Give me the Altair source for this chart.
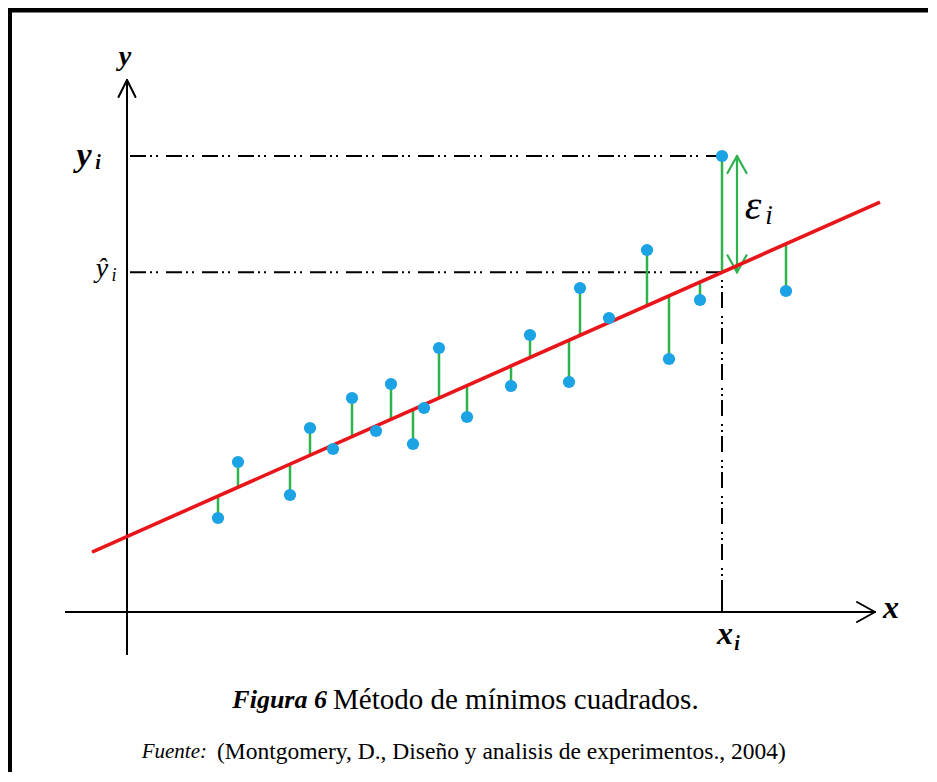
import altair as alt
import pandas as pd

# Diagram coordinates: origin where the axes cross (1 unit = 10 px)
pts_x = [9.1, 11.1, 16.3, 18.3, 20.6, 22.5, 24.9, 26.4, 28.6, 29.7, 31.2,
         34.0, 38.4, 40.3, 44.2, 45.3, 48.2, 52.0, 54.2, 57.3, 59.5, 65.9]
pts_y = [9.4, 15.0, 11.7, 18.4, 16.3, 21.4, 18.1, 22.8, 16.8, 20.4, 26.4,
         19.5, 22.6, 27.7, 23.0, 32.4, 29.4, 36.2, 25.3, 31.2, 45.6, 32.1]
line_x = [-3.5, 75.3]
intercept, slope = 7.55, 0.444
xi_value = 59.5
yi_value = 45.6
eps_x = 61.0
yaxis_range = [-4.3, 53.2]
xaxis_range = [-6.2, 74.8]

caption_bold = "Figura 6"
caption_rest = "Método de mínimos cuadrados."
source_italic = "Fuente:"
source_rest = "(Montgomery, D., Diseño y analisis de experimentos., 2004)"

SERIF = "Liberation Serif"
BLUE = "#1ba3e6"
GREEN = "#2db34b"
RED = "#e8161b"

XS = alt.Scale(domain=[-11.9, 80.1], nice=False, zero=False)
YS = alt.Scale(domain=[-16.0, 60.4], nice=False, zero=False)


def yhat(x):
    return intercept + slope * x


yhat_i = yhat(xi_value)


def segs(rows, color, width, dash=None, cap="butt"):
    df = pd.DataFrame(rows, columns=["x", "y", "x2", "y2"])
    kw = dict(color=color, strokeWidth=width, strokeCap=cap)
    if dash:
        kw["strokeDash"] = dash
    return alt.Chart(df).mark_rule(**kw).encode(
        x=alt.X("x:Q", scale=XS, axis=None),
        y=alt.Y("y:Q", scale=YS, axis=None),
        x2="x2:Q", y2="y2:Q")


def label(text, x, y, size, style="normal", weight="normal", align="center",
          baseline="middle", color="black"):
    df = pd.DataFrame({"t": [text], "x": [x], "y": [y]})
    return alt.Chart(df).mark_text(
        font=SERIF, fontSize=size, fontStyle=style, fontWeight=weight,
        align=align, baseline=baseline, color=color).encode(
        x=alt.X("x:Q", scale=XS, axis=None),
        y=alt.Y("y:Q", scale=YS, axis=None),
        text="t:N")


layers = []

# frame
layers.append(segs([[-11.75, 60.45, -11.75, -17.5],
                    [-11.95, 60.2, 81.5, 60.2]], "black", 5))

# axes
ay_tip = yaxis_range[1]
ax_tip = xaxis_range[1]
layers.append(segs([[0, yaxis_range[0], 0, ay_tip],
                    [xaxis_range[0], 0, ax_tip, 0]], "black", 2))
layers.append(segs([[0, ay_tip, -0.85, ay_tip - 1.7],
                    [0, ay_tip, 0.85, ay_tip - 1.7],
                    [ax_tip, 0, ax_tip - 1.8, 1.0],
                    [ax_tip, 0, ax_tip - 1.8, -1.0]], "black", 2, cap="round"))

# dash-dot guides
layers.append(segs([[0.3, yi_value, xi_value, yi_value],
                    [0.3, yhat_i, xi_value, yhat_i],
                    [xi_value, 1.6, xi_value, yi_value]], "black", 2,
                   dash=[16, 4, 2, 4, 2, 8]))
layers.append(segs([[xi_value, 0, xi_value, 1.6]], "black", 2))

# residuals
res_rows = [[x, y, x, yhat(x)] for x, y in zip(pts_x, pts_y)]
layers.append(segs(res_rows, GREEN, 2.5))

# epsilon double arrow
layers.append(segs([[eps_x, yi_value, eps_x, yhat_i],
                    [eps_x, yi_value, eps_x - 0.95, yi_value - 1.7],
                    [eps_x, yi_value, eps_x + 0.95, yi_value - 1.7],
                    [eps_x, yhat_i, eps_x - 0.95, yhat_i + 1.7],
                    [eps_x, yhat_i, eps_x + 0.95, yhat_i + 1.7]],
                   GREEN, 2.2, cap="round"))

# regression line
layers.append(segs([[line_x[0], yhat(line_x[0]), line_x[1], yhat(line_x[1])]],
                   RED, 3.6))

# points
pts = pd.DataFrame({"x": pts_x, "y": pts_y})
layers.append(alt.Chart(pts).mark_circle(size=150, color=BLUE, opacity=1).encode(
    x=alt.X("x:Q", scale=XS, axis=None),
    y=alt.Y("y:Q", scale=YS, axis=None)))

# labels
layers += [
    label("y", -0.2, 55.5, 28, "italic", "bold"),
    label("x", 76.4, 0.4, 32, "italic", "bold"),
    label("y", -4.3, 45.6, 34, "italic", "bold"),
    label("i", -2.9, 44.9, 20, "italic", "bold"),
    label("ŷ", -2.5, 34.3, 28, "italic"),
    label("i", -1.3, 33.6, 18, "italic"),
    label("x", xi_value + 0.3, -2.2, 32, "italic", "bold"),
    label("i", xi_value + 1.5, -3.2, 20, "italic", "bold"),
    label("ε", 62.6, 40.6, 42, "italic"),
    label("i", 64.2, 39.6, 27, "italic"),
    label(caption_bold, 20.0, -8.8, 26, "italic", "bold", align="right"),
    label(caption_rest, 20.6, -8.8, 29, align="left"),
    label(source_italic, 8.0, -14.0, 21, "italic", align="right"),
    label(source_rest, 9.0, -14.0, 23.5, align="left"),
]

chart = alt.layer(*layers).properties(
    width=920, height=764, autosize="none", padding=0, background="white"
).configure_view(stroke=None)

chart.save("out.html", embed_options={"renderer": "svg", "actions": False})
